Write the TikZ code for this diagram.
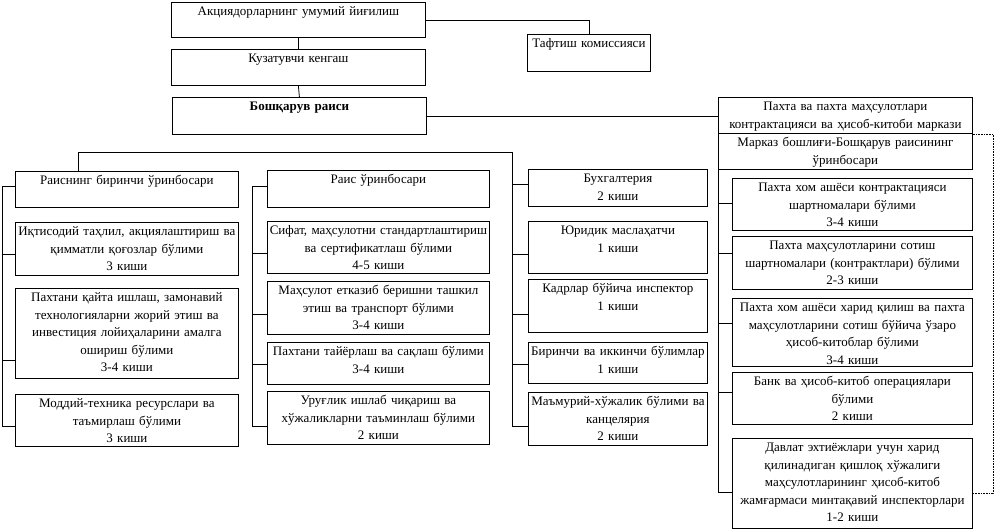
\documentclass[tikz,border=0pt]{standalone}
\usepackage{fontspec}
\setmainfont{Liberation Serif}
\begin{document}
\begin{tikzpicture}[x=1pt, y=-1pt, line width=0.8pt]
	\tikzstyle{box}=[rectangle, draw=black, anchor=north west, align=center, inner xsep=0.5pt, inner ysep=1.5pt, text height=12pt, font=\fontsize{13}{17.5}\selectfont]
	\tikzstyle{wide}=[box, text width=253pt]
	\tikzstyle{col1}=[box, text width=222pt]
	\tikzstyle{col2}=[box, text width=221pt]
	\tikzstyle{col3}=[box, text width=178pt]
	\tikzstyle{col4}=[box, text width=239pt]
	\useasboundingbox (0, 0) rectangle (994, 531);

	\draw node[wide, text depth=20pt] at (171, 2) (meeting) {Акциядорларнинг умумий йиғилиш};
	\draw node[box, text width=122pt, text depth=22pt] at (527, 34) (audit) {Тафтиш комиссияси};
	\draw node[wide, text depth=21pt] at (171, 49) (council) {Кузатувчи кенгаш};
	\draw node[wide, text depth=22pt] at (172, 97) (chair) {\textbf{Бошқарув раиси}};
	\draw node[wide, text depth=21pt] at (718, 97) (centre) {Пахта ва пахта маҳсулотлари\\контрактацияси ва ҳисоб-китоби маркази};
	\draw node[wide, text depth=21pt] at (718, 133) (head) {Марказ бошлиғи-Бошқарув раисининг\\ўринбосари};

	\draw node[col1, text depth=21pt] at (15, 171) (v1) {Раиснинг биринчи ўринбосари};
	\draw node[col1, text depth=38pt] at (15, 222) (p11) {Иқтисодий таҳлил, акциялаштириш ва\\қимматли қоғозлар бўлими\\3 киши};
	\draw node[col1, text depth=75pt] at (15, 288) (p12) {Пахтани қайта ишлаш, замонавий\\технологияларни жорий этиш ва\\инвестиция лойиҳаларини амалга\\ошириш бўлими\\3-4 киши};
	\draw node[col1, text depth=37pt] at (15, 394) (p13) {Моддий-техника ресурслари ва\\таъмирлаш бўлими\\3 киши};

	\draw node[col2, text depth=22pt] at (267, 170) (v2) {Раис ўринбосари};
	\draw node[col2, text depth=37pt] at (267, 221) (p21) {Сифат, маҳсулотни стандартлаштириш\\ва сертификатлаш бўлими\\4-5 киши};
	\draw node[col2, text depth=38pt] at (267, 281) (p22) {Маҳсулот етказиб беришни ташкил\\этиш ва транспорт бўлими\\3-4 киши};
	\draw node[col2, text depth=27pt] at (267, 342) (p23) {Пахтани тайёрлаш ва сақлаш бўлими\\3-4 киши};
	\draw node[col2, text depth=38pt] at (267, 391) (p24) {Уруғлик ишлаб чиқариш ва\\хўжаликларни таъминлаш бўлими\\2 киши};

	\draw node[col3, text depth=22pt] at (528, 169) (s1) {Бухгалтерия\\2 киши};
	\draw node[col3, text depth=37pt] at (528, 221) (s2) {Юридик маслаҳатчи\\1 киши};
	\draw node[col3, text depth=38pt] at (528, 279) (s3) {Кадрлар бўйича инспектор\\1 киши};
	\draw node[col3, text depth=26pt] at (528, 342) (s4) {Биринчи ва иккинчи бўлимлар\\1 киши};
	\draw node[col3, text depth=38pt] at (528, 392) (s5) {Маъмурий-хўжалик бўлими ва\\канцелярия\\2 киши};

	\draw node[col4, text depth=37pt] at (732, 178) (e1) {Пахта хом ашёси контрактацияси\\шартномалари бўлими\\3-4 киши};
	\draw node[col4, text depth=38pt] at (732, 236) (e2) {Пахта маҳсулотларини сотиш\\шартномалари (контрактлари) бўлими\\2-3 киши};
	\draw node[col4, text depth=53pt] at (732, 298) (e3) {Пахта хом ашёси харид қилиш ва пахта\\маҳсулотларини сотиш бўйича ўзаро\\ҳисоб-китоблар бўлими\\3-4 киши};
	\draw node[col4, text depth=37pt] at (732, 372) (e4) {Банк ва ҳисоб-китоб операциялари\\бўлими\\2 киши};
	\draw node[col4, text depth=75pt] at (732, 438) (e5) {Давлат эхтиёжлари учун харид\\қилинадиган қишлоқ хўжалиги\\маҳсулотларининг ҳисоб-китоб\\жамғармаси минтақавий инспекторлари\\1-2 киши};

	\coordinate (bus) at (512, 152);
	\coordinate (rail1) at (2, 0);
	\coordinate (rail2) at (252, 0);

	\draw (meeting.east) -| (audit.north);
	\draw (meeting.south) -- (council.north);
	\draw (council.south) -- (chair.north);
	\draw (chair.east) -- (chair.east -| centre.west);
	\draw [densely dotted, line width=0.6pt] (centre.south east) -- ++(20, 0) |- (e5.east |- 0, 493);

	\draw (v1.north -| 78, 0) |- (bus) -- (bus |- 0, 426) -- (s5.west |- 0, 426);
	\foreach \n/\y in {s1/184, s2/254, s3/314, s4/364}
		\draw (\n.west |- 0, \y) -- (bus |- 0, \y);

	\draw (v1.west |- 0, 186) -| (rail1 |- 0, 426) -- (p13.west |- 0, 426);
	\foreach \n/\y in {p11/254, p12/360}
		\draw (\n.west |- 0, \y) -- (rail1 |- 0, \y);

	\draw (v2.west |- 0, 186) -| (rail2 |- 0, 426) -- (p24.west |- 0, 426);
	\foreach \n/\y in {p21/253, p22/314, p23/364}
		\draw (\n.west |- 0, \y) -- (rail2 |- 0, \y);

	\draw (head.south west) -- (head.south west |- 0, 492) -- (e5.west |- 0, 492);
	\foreach \n/\y in {e1/203, e2/253, e3/323, e4/392}
		\draw (\n.west |- 0, \y) -- (head.south west |- 0, \y);
\end{tikzpicture}
\end{document}
